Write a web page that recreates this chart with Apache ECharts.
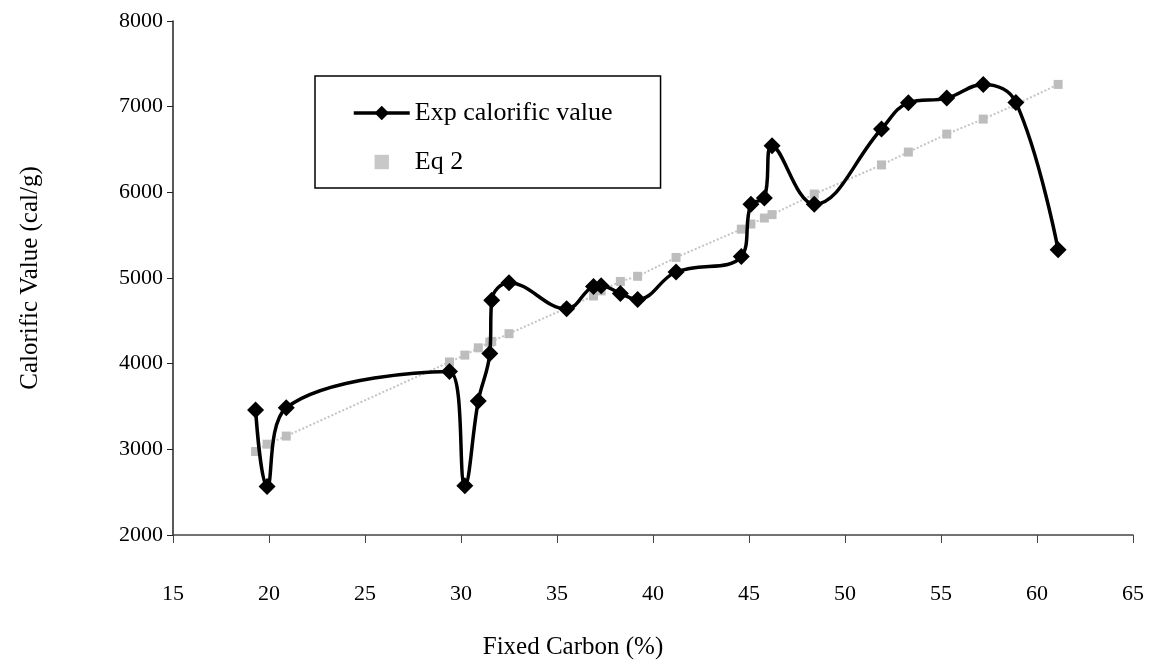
<!DOCTYPE html>
<html>
<head>
<meta charset="utf-8">
<script src="https://cdn.jsdelivr.net/npm/echarts@6/dist/echarts.min.js"></script>
<style>html,body{margin:0;padding:0;background:#fff}#c{width:1158px;height:665px}</style>
</head>
<body>
<div id="c"></div>
<script>
const fixedCarbon = [19.3, 19.9, 20.9, 29.4, 30.2, 30.9, 31.5, 31.6, 32.5, 35.5, 36.9, 37.3, 38.3, 39.2, 41.2, 44.6, 45.1, 45.8, 46.2, 48.4, 51.9, 53.3, 55.3, 57.2, 58.9, 61.1];
const expValue = [3460, 2565, 3485, 3910, 2575, 3565, 4120, 4740, 4945, 4640, 4900, 4910, 4820, 4750, 5070, 5250, 5860, 5935, 6545, 5860, 6740, 7045, 7100, 7260, 7050, 5330];
const eq2Value = [2975, 3060, 3155, 4020, 4100, 4185, 4250, 4260, 4350, 4650, 4790, 4850, 4960, 5020, 5240, 5570, 5630, 5700, 5740, 5980, 6320, 6470, 6680, 6855, 7025, 7260];
const seriesNames = ['Exp calorific value', 'Eq 2'];
const xName = 'Fixed Carbon (%)';
const yName = 'Calorific Value (cal/g)';

const font = 'Liberation Serif';
const chart = echarts.init(document.getElementById('c'));
chart.setOption({
  animation: false,
  backgroundColor: '#fff',
  grid: { left: 173, right: 25, top: 21, bottom: 126 },
  legend: {
    orient: 'vertical',
    left: 315, top: 76,
    padding: [22, 48, 11, 37],
    itemGap: 19,
    itemWidth: 56, itemHeight: 18,
    borderColor: '#000', borderWidth: 1.5,
    textStyle: { fontFamily: font, fontSize: 26, color: '#000', lineHeight: 30 },
    data: [
      { name: seriesNames[0], lineStyle: { width: 3.5, color: '#000' } },
      { name: seriesNames[1], lineStyle: { opacity: 0 }, itemStyle: { color: '#c8c8c8' } }
    ]
  },
  xAxis: {
    type: 'value', min: 15, max: 65, interval: 5,
    name: xName, nameLocation: 'middle', nameGap: 100,
    nameTextStyle: { fontFamily: font, fontSize: 25, color: '#000', padding: [0, 160, 0, 0] },
    axisLine: { show: true, lineStyle: { color: '#444', width: 1.5 } },
    axisTick: { show: true, length: 8, lineStyle: { color: '#444' } },
    axisLabel: { fontFamily: font, fontSize: 22, color: '#000', margin: 48 },
    splitLine: { show: false }
  },
  yAxis: {
    type: 'value', min: 2000, max: 8000, interval: 1000,
    name: yName, nameLocation: 'middle', nameGap: 130,
    nameTextStyle: { fontFamily: font, fontSize: 25, color: '#000' },
    axisLine: { show: true, lineStyle: { color: '#222', width: 1.5 } },
    axisTick: { show: true, length: 6, lineStyle: { color: '#222' } },
    axisLabel: { fontFamily: font, fontSize: 22, color: '#000', margin: 10, formatter: v => String(v) },
    splitLine: { show: false }
  },
  series: [
    {
      name: seriesNames[0], type: 'line', smooth: 0.4,
      data: fixedCarbon.map((x, i) => [x, expValue[i]]),
      symbol: 'diamond', symbolSize: 17,
      lineStyle: { color: '#000', width: 3.5 },
      itemStyle: { color: '#000' },
      z: 3
    },
    {
      name: seriesNames[1], type: 'line',
      data: fixedCarbon.map((x, i) => [x, eq2Value[i]]),
      symbol: 'rect', symbolSize: 9,
      lineStyle: { color: '#c4c4c4', width: 2, type: 'dotted' },
      itemStyle: { color: '#bdbdbd' },
      z: 2
    }
  ]
});
</script>
</body>
</html>
